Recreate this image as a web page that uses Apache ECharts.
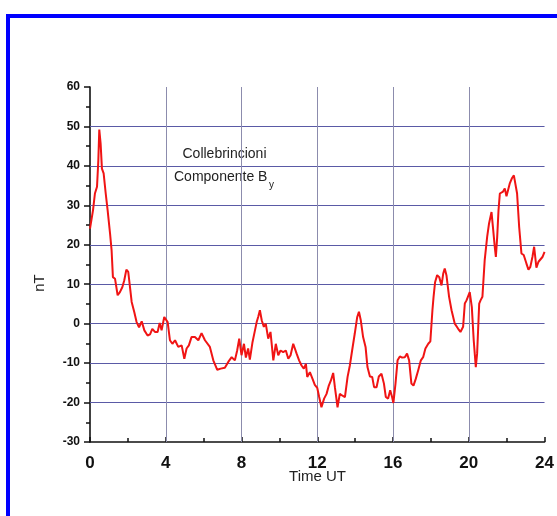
<!DOCTYPE html>
<html>
<head>
<meta charset="utf-8">
<script src="https://cdn.jsdelivr.net/npm/echarts@6/dist/echarts.min.js"></script>
<style>
html,body{margin:0;padding:0;background:#fff;}
#chart{width:557px;height:516px;}
</style>
</head>
<body>
<div id="chart"></div>
<script>
// Time (UT hours) and By component values (nT)
const times = [
  0, 0.09, 0.16, 0.26, 0.37, 0.44, 0.49, 0.56, 0.63, 0.72, 0.83, 0.93, 1.06, 1.14, 1.21, 1.32, 1.46, 1.58, 1.71, 1.81,
  1.92, 2.02, 2.11, 2.2, 2.34, 2.46, 2.59, 2.73, 2.87, 3.04, 3.17, 3.29, 3.43, 3.57, 3.68, 3.78, 3.92, 4.01, 4.1, 4.22,
  4.35, 4.49, 4.66, 4.84, 4.98, 5.1, 5.22, 5.36, 5.54, 5.72, 5.89, 6.07, 6.16, 6.33, 6.51, 6.72, 6.9, 7.12, 7.3, 7.48,
  7.65, 7.77, 7.88, 8.0, 8.13, 8.23, 8.35, 8.44, 8.58, 8.71, 8.8, 8.88, 8.97, 9.07, 9.18, 9.28, 9.41, 9.53, 9.68, 9.81,
  9.94, 10.06, 10.2, 10.34, 10.47, 10.59, 10.73, 10.91, 11.04, 11.17, 11.29, 11.4, 11.47, 11.61, 11.75, 11.87, 12.0, 12.1, 12.22, 12.36,
  12.49, 12.61, 12.72, 12.84, 12.93, 13.0, 13.07, 13.19, 13.31, 13.46, 13.6, 13.72, 13.84, 13.98, 14.11, 14.2, 14.3, 14.42, 14.55, 14.65,
  14.78, 14.9, 15.0, 15.13, 15.25, 15.39, 15.52, 15.62, 15.74, 15.85, 15.95, 16.02, 16.13, 16.24, 16.36, 16.48, 16.62, 16.74, 16.85, 16.97,
  17.08, 17.2, 17.33, 17.47, 17.59, 17.71, 17.86, 17.97, 18.08, 18.14, 18.22, 18.33, 18.44, 18.56, 18.65, 18.73, 18.82, 18.96, 19.09, 19.26,
  19.44, 19.56, 19.7, 19.79, 19.88, 19.95, 20.05, 20.16, 20.26, 20.37, 20.44, 20.55, 20.62, 20.72, 20.84, 20.97, 21.07, 21.2, 21.29, 21.37,
  21.43, 21.5, 21.57, 21.64, 21.72, 21.81, 21.9, 21.99, 22.09, 22.16, 22.27, 22.38, 22.48, 22.55, 22.66, 22.78, 22.9, 23.04, 23.15, 23.25,
  23.36, 23.45, 23.57, 23.68, 23.78, 23.89, 24.0
];
const byValues = [
  24.1, 24.5, 28.8, 33, 34.7, 41.4, 49.2, 45.7, 39.3, 38.1, 33, 28.8, 22.8, 18.6, 11.8, 11.4, 7.2, 8, 9.3, 11,
  13.7, 13.1, 9.3, 5.5, 2.9, 0.4, -0.9, 0.6, -1.7, -3, -2.7, -1.3, -2.1, -2.1, 0.2, -1.7, 1.7, 2.1, 0.4, -4.2,
  -5.1, -4.2, -5.9, -5.5, -8.9, -6.3, -5.5, -3.4, -3.4, -4.2, -2.4, -4.2, -4.7, -5.9, -9.3, -11.7, -11.4, -11.2, -9.7, -8.5,
  -9.3, -6.8, -3.8, -8.0, -5.1, -8.6, -6.3, -9.1, -4.7, -1.7, 0.4, 1.7, 3.4, 0.8, -0.8, 0, -3.8, -2.1, -9.3, -5.1,
  -8, -6.8, -7.2, -6.8, -8.9, -8, -5.1, -7.6, -9.3, -10.6, -11.4, -10.2, -13.5, -12.3, -14, -15.5, -16.3, -18.6, -21.2, -19,
  -17.8, -15.7, -14.4, -12.5, -16.1, -18.6, -21.2, -17.8, -18.2, -18.6, -13.5, -10.6, -6.8, -2.5, 1.7, 3, 0.8, -3.4, -5.9, -11,
  -13.4, -13.5, -16.1, -16.1, -13.4, -12.7, -15.2, -18.6, -19, -16.9, -18.6, -20.1, -15.2, -9.3, -8.3, -8.6, -8.5, -7.6, -9.3, -15.2,
  -15.7, -14, -11.8, -9.3, -8.5, -6.3, -5.1, -4.5, 3.4, 6.8, 10.5, 12.3, 11.8, 9.7, 12.7, 14, 12.3, 6.8, 3.4, 0,
  -1.3, -2.1, -0.8, 5.1, 5.9, 5.5, 8, 4.2, -4.2, -11, -7.6, 5.1, 5.9, 6.8, 16.1, 22, 25.4, 28.3, 23.7, 19.5,
  16.9, 22, 28.8, 33, 32.6, 33.5, 34.3, 32.3, 32.6, 35.5, 36.8, 37.6, 37.2, 33, 24.5, 17.8, 17.4, 15.3, 13.7, 14.4,
  16.9, 19.5, 14.2, 15.7, 16.1, 16.9, 18.2
];
const hGridValues = [-20, -10, 0, 10, 20, 30, 40, 50];
const vGridValues = [4, 8, 12, 16, 20];
const titleLine1 = 'Collebrincioni';
const titleLine2 = 'Componente B';
const titleSub = 'y';
const xName = 'Time UT';
const yName = 'nT';

const FONT = 'Liberation Sans, Arial, sans-serif';
const chart = echarts.init(document.getElementById('chart'), null, {renderer: 'canvas'});
const seriesData = times.map((t, i) => [t, byValues[i]]);

const option = {
  animation: false,
  backgroundColor: '#ffffff',
  grid: {left: 90, right: 12, top: 87, bottom: 74},
  xAxis: {
    type: 'value', min: 0, max: 24, interval: 4,
    axisLine: {show: true, onZero: false, lineStyle: {color: '#111', width: 1.6}},
    axisTick: {show: true, inside: true, length: 5, lineStyle: {color: '#111', width: 1.5}},
    minorTick: {show: true, splitNumber: 2, length: 4, lineStyle: {color: '#111', width: 1.5}},
    axisLabel: {color: '#111', fontSize: 17, fontWeight: 'bold', fontFamily: FONT, margin: 13},
    splitLine: {show: false}
  },
  yAxis: {
    type: 'value', min: -30, max: 60, interval: 10,
    axisLine: {show: true, onZero: false, lineStyle: {color: '#111', width: 1.6}},
    axisTick: {show: true, inside: false, length: 6, lineStyle: {color: '#111', width: 1.5}},
    minorTick: {show: true, splitNumber: 2, length: 4, lineStyle: {color: '#111', width: 1.5}},
    axisLabel: {color: '#111', fontSize: 12, fontWeight: 'bold', fontFamily: FONT, margin: 10},
    splitLine: {show: false}
  },
  graphic: [
    {type: 'rect', silent: true, z: 100,
     shape: {x: 8, y: 16, width: 700, height: 700},
     style: {fill: 'none', stroke: '#0000ff', lineWidth: 4}},
    {type: 'text', silent: true, x: 224.5, y: 154,
     style: {text: titleLine1, fontSize: 14, fontFamily: FONT, fill: '#222', align: 'center', verticalAlign: 'middle'}},
    {type: 'text', silent: true, x: 174, y: 177,
     style: {text: titleLine2, fontSize: 14, fontFamily: FONT, fill: '#222', align: 'left', verticalAlign: 'middle'}},
    {type: 'text', silent: true, x: 269, y: 185,
     style: {text: titleSub, fontSize: 10, fontFamily: FONT, fill: '#222', align: 'left', verticalAlign: 'middle'}},
    {type: 'text', silent: true, x: 317.5, y: 477,
     style: {text: xName, fontSize: 15, fontFamily: FONT, fill: '#222', align: 'center', verticalAlign: 'middle'}},
    {type: 'text', silent: true, x: 40, y: 283, rotation: Math.PI / 2,
     style: {text: yName, fontSize: 15, fontFamily: FONT, fill: '#222', align: 'center', verticalAlign: 'middle'}}
  ],
  series: [
    {
      type: 'line', data: [], z: 1, silent: true,
      markLine: {
        silent: true, symbol: ['none', 'none'], animation: false,
        label: {show: false},
        data: hGridValues.map(v => ({yAxis: v, lineStyle: {color: '#5a5aa6', width: 1, type: 'solid'}}))
          .concat(vGridValues.map(v => ({xAxis: v, lineStyle: {color: '#8c8cad', width: 1, type: 'solid'}})))
      }
    },
    {
      type: 'line', data: seriesData, z: 5, showSymbol: false, symbol: 'none',
      lineStyle: {color: '#f01414', width: 2}
    }
  ]
};
chart.setOption(option);
</script>
</body>
</html>
